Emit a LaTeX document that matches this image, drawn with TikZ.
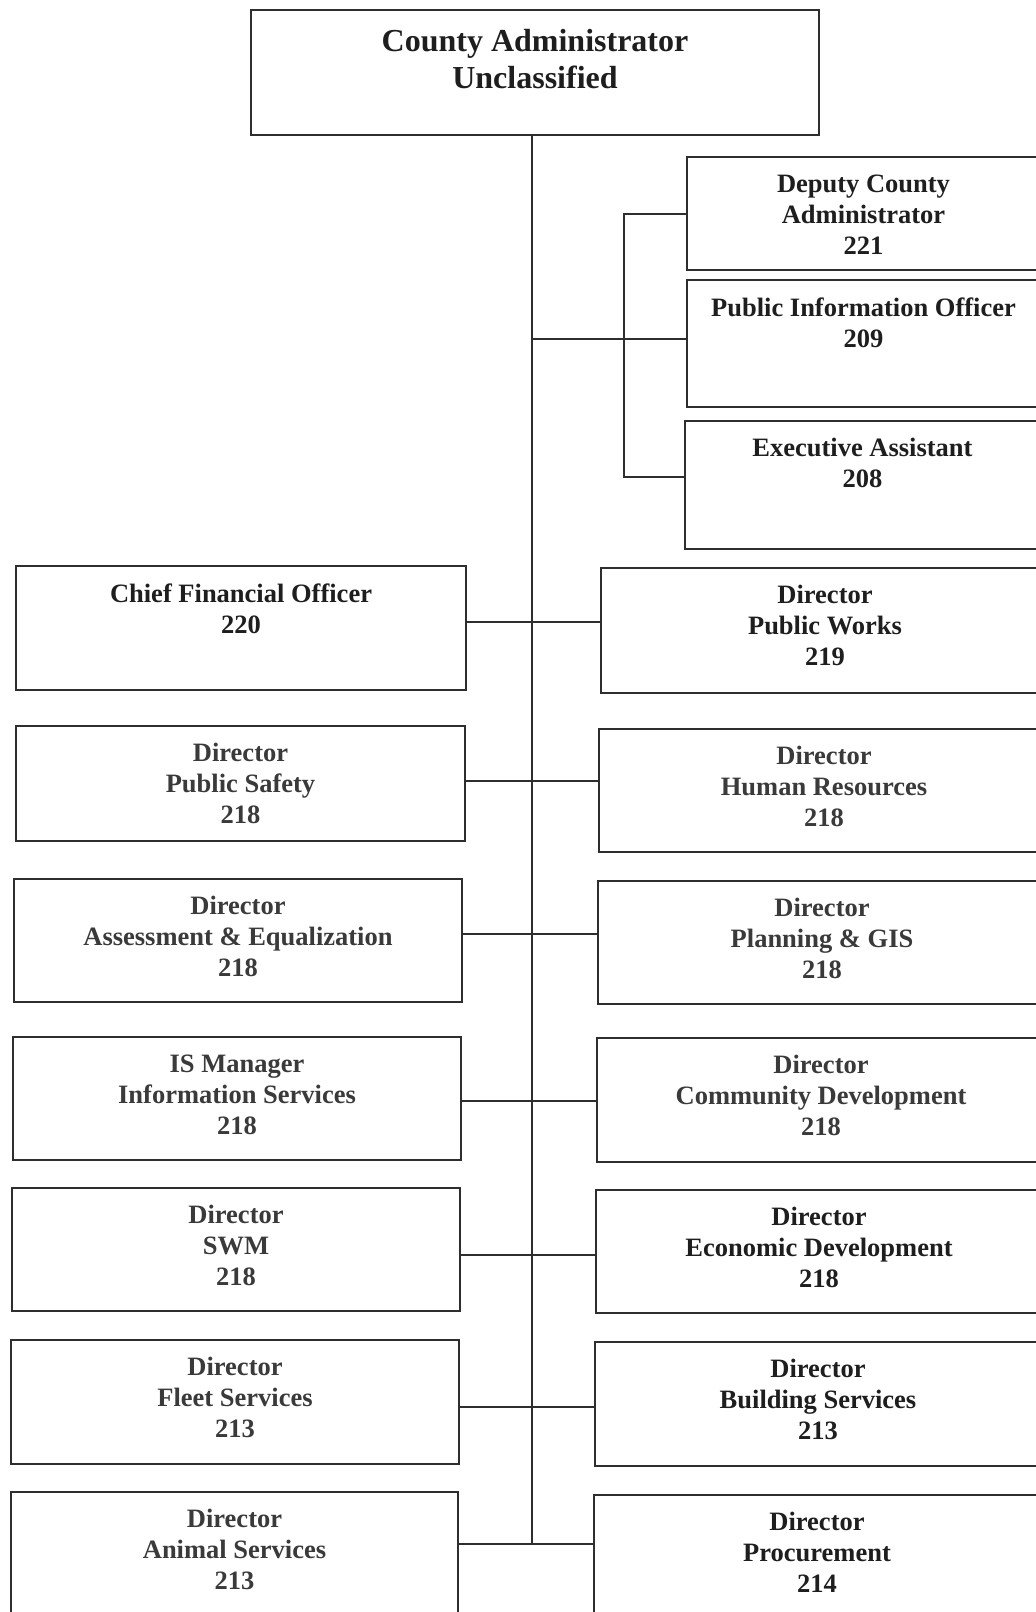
\documentclass[tikz,border=0pt]{standalone}
\usepackage{fontspec}
\setmainfont{Liberation Serif}
\usetikzlibrary{fit}
\definecolor{ink}{HTML}{1E1E1E}
\definecolor{inklight}{HTML}{3A3A3A}
\definecolor{rule}{HTML}{2E2E2E}
\begin{document}
\begin{tikzpicture}[x=1pt,y=-1pt,
  box/.style={draw=rule, line width=1.5pt, inner sep=0pt, fit={#1}},
  lbl/.style={anchor=north, yshift=-18pt, align=center, inner sep=0pt,
              font=\bfseries\fontsize{26.5}{31}\selectfont, text=ink},
  lbllight/.style={lbl, text=inklight},
  toplbl/.style={anchor=north, yshift=-20pt, align=center, inner sep=0pt,
              font=\bfseries\fontsize{32}{37}\selectfont, text=ink},
  conn/.style={draw=rule, line width=1.3pt}]

\fill[white] (0,0) rectangle (1036,1612);
\useasboundingbox (0,0) rectangle (1036,1612);

% head of the chart
\node[box={(251,10) (819,135)}, label={[toplbl]north:{County Administrator\\Unclassified}}] (top) {};

% staff boxes to the right of the trunk
\node[box={(687,157) (1040,270)}, label={[lbl]north:{Deputy County\\Administrator\\221}}] (dep) {};
\node[box={(687,280) (1040,407)}, label={[lbl]north:{Public Information Officer\\209}}] (pio) {};
\node[box={(685,421) (1040,549)}, label={[lbl]north:{Executive Assistant\\208}}] (ea) {};

% left column
\node[box={(16,566) (466,690)},  label={[lbl]north:{Chief Financial Officer\\220}}] (cfo) {};
\node[box={(16,726) (465,841)},  label={[lbllight]north:{Director\\Public Safety\\218}}] (ps) {};
\node[box={(14,879) (462,1002)}, label={[lbllight]north:{Director\\Assessment \& Equalization\\218}}] (ae) {};
\node[box={(13,1037) (461,1160)},label={[lbllight]north:{IS Manager\\Information Services\\218}}] (is) {};
\node[box={(12,1188) (460,1311)},label={[lbllight]north:{Director\\SWM\\218}}] (swm) {};
\node[box={(11,1340) (459,1464)},label={[lbllight]north:{Director\\Fleet Services\\213}}] (fleet) {};
\node[box={(11,1492) (458,1620)},label={[lbllight]north:{Director\\Animal Services\\213}}] (animal) {};

% right column
\node[box={(601,568) (1049,693)}, label={[lbl]north:{Director\\Public Works\\219}}] (pw) {};
\node[box={(599,729) (1049,852)}, label={[lbllight]north:{Director\\Human Resources\\218}}] (hr) {};
\node[box={(598,881) (1046,1004)},label={[lbllight]north:{Director\\Planning \& GIS\\218}}] (plan) {};
\node[box={(597,1038) (1045,1162)},label={[lbllight]north:{Director\\Community Development\\218}}] (comm) {};
\node[box={(596,1190) (1042,1313)},label={[lbl]north:{Director\\Economic Development\\218}}] (econ) {};
\node[box={(595,1342) (1041,1466)},label={[lbl]north:{Director\\Building Services\\213}}] (bldg) {};
\node[box={(594,1495) (1040,1620)},label={[lbl]north:{Director\\Procurement\\214}}] (proc) {};

% main trunk
\coordinate (tbot) at (532,1544);
\draw[conn] (top.south -| tbot) -- (tbot);

% staff bracket
\draw[conn] (tbot |- 0,339) -- (pio.west |- 0,339);
\draw[conn] (dep.west |- 0,214) -- (624,214) -- (624,477) -- (ea.west |- 0,477);

% paired branches
\draw[conn] (cfo.east |- 0,622)    -- (pw.west |- 0,622);
\draw[conn] (ps.east |- 0,781)     -- (hr.west |- 0,781);
\draw[conn] (ae.east |- 0,934)     -- (plan.west |- 0,934);
\draw[conn] (is.east |- 0,1101)    -- (comm.west |- 0,1101);
\draw[conn] (swm.east |- 0,1255)   -- (econ.west |- 0,1255);
\draw[conn] (fleet.east |- 0,1407) -- (bldg.west |- 0,1407);
\draw[conn] (animal.east |- 0,1544) -- (proc.west |- 0,1544);
\end{tikzpicture}
\end{document}
